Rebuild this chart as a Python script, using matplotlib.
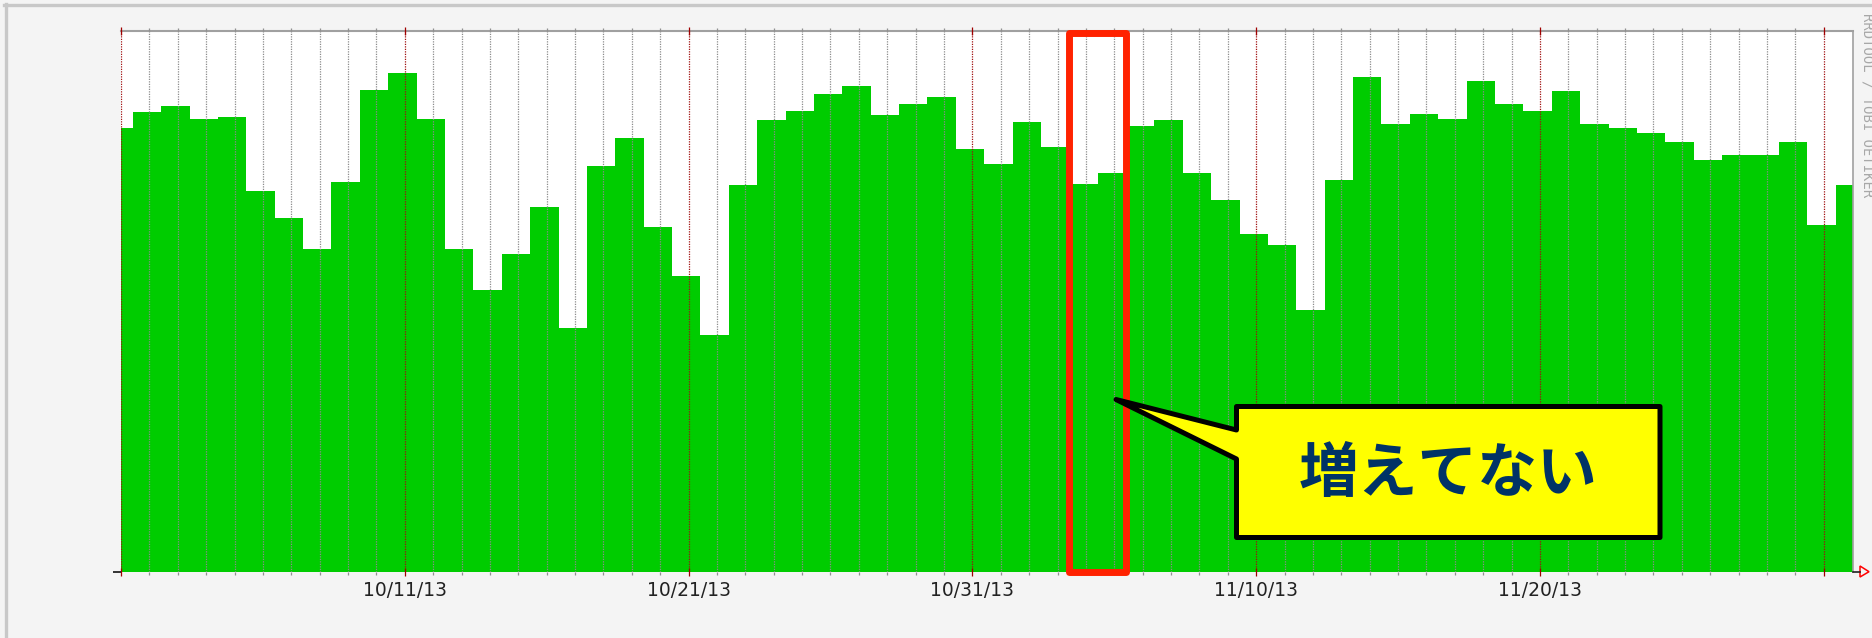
import pandas as pd
import matplotlib
matplotlib.use('Agg')
import matplotlib.pyplot as plt
import matplotlib.dates as mdates
from matplotlib.patches import Rectangle, Polygon
from matplotlib.lines import Line2D

# daily values (arbitrary units, no y scale shown)
values = [444, 460, 466, 453, 455, 381, 354, 323, 390, 482,
          499, 453, 323, 282, 318, 365, 244, 406, 434, 345,
          296, 237, 387, 452, 461, 478, 486, 457, 468, 475,
          423, 408, 450, 425, 388, 399, 446, 452, 399, 372,
          338, 327, 262, 392, 495, 448, 458, 453, 491, 468,
          461, 481, 448, 444, 439, 430, 412, 417, 417, 430,
          347, 387]

start = pd.Timestamp('2013-10-01')
end = pd.Timestamp('2013-12-01 00:30')
steps = pd.date_range('2013-10-01 10:00', periods=61, freq='D')
major_days = pd.date_range('2013-10-01', '2013-11-30', freq='10D')
all_days = pd.date_range('2013-10-01', '2013-11-30', freq='D')
minor_days = [d for d in all_days if d not in major_days]
major_labels = [''] + [d.strftime('%m/%d/%y') for d in major_days[1:-1]] + ['']

# the two days that "did not increase"
hl_start = pd.Timestamp('2013-11-03 10:00')
hl_end = pd.Timestamp('2013-11-05 10:00')
callout_text = '増えてない'

W, H = 1872, 638


def fx(x):
    return x / W


def fy(y):
    return 1 - y / H


fig = plt.figure(figsize=(W / 100, H / 100), dpi=100, facecolor='#f4f4f4')

# outer frame (top and left only)
fig.add_artist(Line2D([fx(4), 1], [fy(5.2), fy(5.2)], color='#c8c8c8', lw=2.4))
fig.add_artist(Line2D([fx(5.6), fx(5.6)], [fy(4), 0], color='#c8c8c8', lw=2.4))

left, right, top, bottom = 121, 1852.7, 30.5, 571.7
ax = fig.add_axes([fx(left), fy(bottom), (right - left) / W, (bottom - top) / H])
ax.set_facecolor('white')

edges = mdates.date2num([start] + list(steps) + [end])
ax.stairs(values, edges, fill=True, color='#00cc00', baseline=0, zorder=1)

ax.set_xlim(edges[0], edges[-1])
ax.set_ylim(0, bottom - top)

ax.set_xticks(mdates.date2num(major_days), labels=major_labels)
ax.set_xticks(mdates.date2num(minor_days), minor=True)
ax.set_axisbelow(False)
ax.grid(True, axis='x', which='major', color='#a01010', linestyle=(0, (1, 1)), linewidth=0.9)
ax.grid(True, axis='x', which='minor', color='#8c8c8c', linestyle=(0, (1, 1)), linewidth=0.9)
ax.tick_params(axis='x', which='major', direction='inout', length=6, width=0.9,
               color='#a00000', top=True, bottom=True, labelsize=13.5, pad=4,
               labelcolor='#222222')
ax.tick_params(axis='x', which='minor', direction='out', length=2.5, width=0.9,
               color='#909090', top=True, bottom=True)
ax.set_yticks([0], labels=[''])
ax.tick_params(axis='y', direction='out', length=6, width=1.4, color='#333333')

for s in ['left', 'bottom']:
    ax.spines[s].set_visible(False)
ax.spines['top'].set_color('#a0a0a0')
ax.spines['top'].set_linewidth(1.5)
ax.spines['right'].set_color('#a0a0a0')
ax.spines['right'].set_linewidth(1.2)

# x axis arrow at the right end
fig.add_artist(Line2D([fx(right), fx(1860)], [fy(bottom), fy(bottom)], color='#222222', lw=1.2))
fig.add_artist(Polygon([(fx(1860), fy(566)), (fx(1869), fy(bottom)), (fx(1860), fy(577))],
                       closed=True, fill=False, ec='#ff0000', lw=1.1))

# red highlight box
x0, x1 = mdates.date2num([hl_start, hl_end])
ax.add_patch(Rectangle((x0, 0), x1 - x0, 538.7, fill=False, ec='#ff2200', lw=5,
                       joinstyle='round', clip_on=False, zorder=5))

# callout
pts = [(1236.5, 406.5), (1660, 406.5), (1660, 537.5), (1236.5, 537.5),
       (1236.5, 459), (1116, 399.5), (1236.5, 430)]
fig.add_artist(Polygon([(fx(x), fy(y)) for x, y in pts], closed=True, fc='#ffff00',
                       ec='black', lw=3.6, joinstyle='round', zorder=6))
fig.text(fx(1448), fy(475), callout_text, ha='center', va='center', fontsize=43,
         fontweight='bold', color='#003366', family=['Noto Sans CJK JP', 'DejaVu Sans'],
         zorder=7)

fig.text(fx(1867), fy(13), 'RRDTOOL / TOBI OETIKER', rotation=270, ha='center', va='top',
         fontsize=10, family='DejaVu Sans Mono', color='#a8a8a8')

fig.savefig('out.png', dpi=100, facecolor=fig.get_facecolor())
